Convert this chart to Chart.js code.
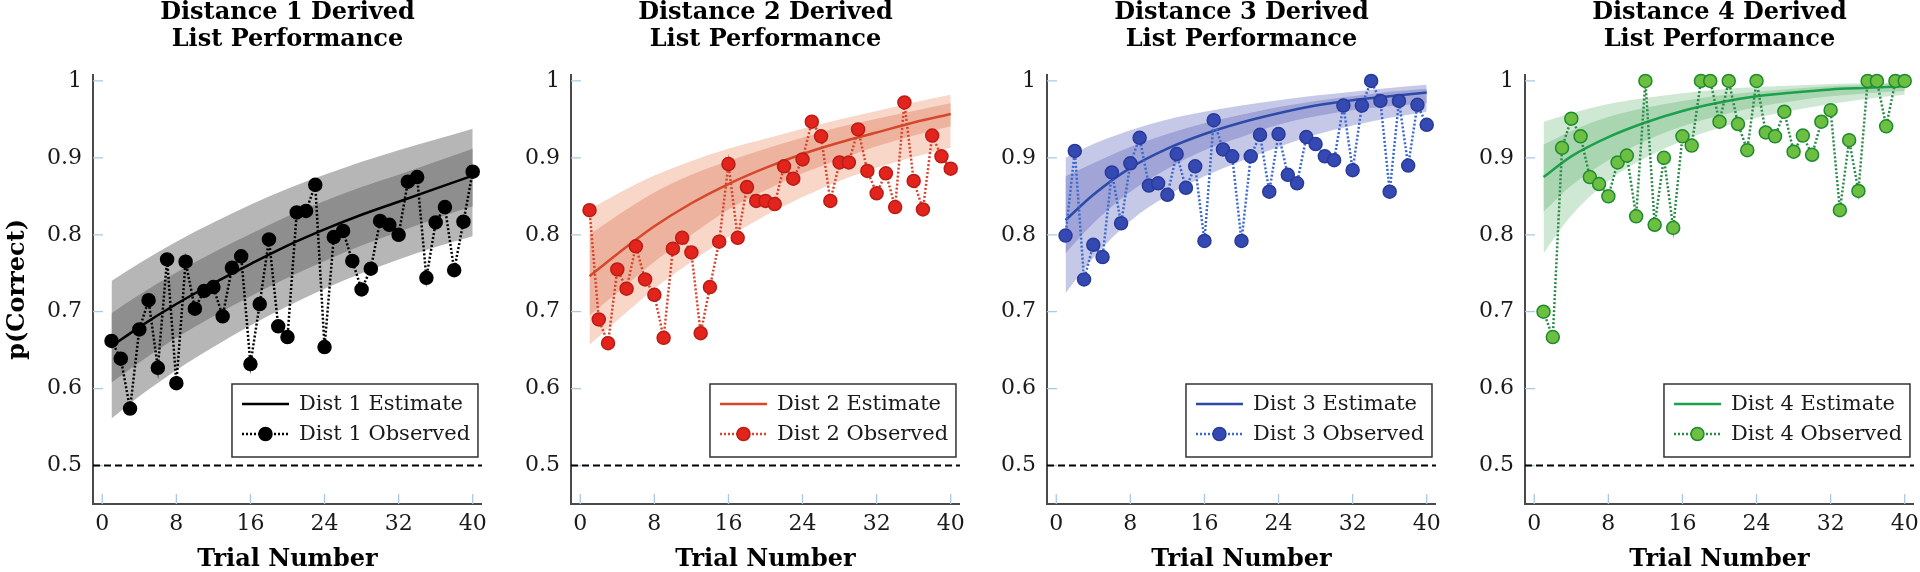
<!DOCTYPE html>
<html>
<head>
<meta charset="utf-8">
<title>Derived List Performance</title>
<script src="https://cdn.jsdelivr.net/npm/chart.js@4.4.1/dist/chart.umd.min.js"></script>
<style>
  html, body { margin: 0; padding: 0; background: #fff; overflow: hidden; }
  #wrap  { position: relative; width: 1920px; height: 572px; }
  .panel { position: absolute; top: 0; }
</style>
</head>
<body>
<div id="wrap">
  <canvas class="panel" id="c1" width="494" height="572" style="left:0px"></canvas>
  <canvas class="panel" id="c2" width="494" height="572" style="left:478px"></canvas>
  <canvas class="panel" id="c3" width="494" height="572" style="left:954px"></canvas>
  <canvas class="panel" id="c4" width="494" height="572" style="left:1432px"></canvas>
</div>
<script>
// ═══════════════════════════════════════════════════════
// DATA
// ═══════════════════════════════════════════════════════
const TRIALS = [1,2,3,4,5,6,7,8,9,10,11,12,13,14,15,16,17,18,19,20,
                21,22,23,24,25,26,27,28,29,30,31,32,33,34,35,36,37,38,39,40];
const FIT_X   = [1, 4, 8, 12, 16, 20, 24, 28, 32, 36, 40];
const X_TICKS = [0, 8, 16, 24, 32, 40];
const Y_TICKS = [0.5, 0.6, 0.7, 0.8, 0.9, 1];
const X_MIN = -1, X_MAX = 41;
const Y_MIN = 0.45, Y_MAX = 1.008;
const CHANCE = 0.5;

// Distance 1
const D1_OBS = [0.662,0.639,0.574,0.677,0.715,0.627,0.768,0.607,0.765,0.704,
                0.727,0.732,0.694,0.757,0.772,0.632,0.710,0.794,0.681,0.667,
                0.829,0.831,0.865,0.654,0.797,0.805,0.766,0.729,0.756,0.818,
                0.813,0.800,0.869,0.875,0.744,0.816,0.836,0.754,0.817,0.882];
const D1_EST      = [0.655,0.680,0.710,0.737,0.762,0.786,0.807,0.826,0.843,0.860,0.877];
const D1_INNER_HI = [0.698,0.722,0.751,0.777,0.801,0.824,0.844,0.862,0.878,0.895,0.912];
const D1_INNER_LO = [0.608,0.634,0.666,0.694,0.720,0.744,0.766,0.786,0.804,0.821,0.837];
const D1_OUTER_HI = [0.740,0.763,0.791,0.816,0.839,0.860,0.878,0.895,0.910,0.924,0.938];
const D1_OUTER_LO = [0.561,0.590,0.624,0.654,0.682,0.707,0.730,0.750,0.768,0.784,0.798];

// Distance 2
const D2_OBS = [0.832,0.690,0.659,0.755,0.730,0.785,0.742,0.722,0.666,0.782,
                0.796,0.777,0.672,0.732,0.791,0.892,0.796,0.862,0.844,0.844,
                0.840,0.889,0.873,0.898,0.947,0.928,0.844,0.894,0.894,0.937,
                0.883,0.854,0.880,0.836,0.972,0.870,0.833,0.929,0.902,0.886];
const D2_EST      = [0.746,0.775,0.811,0.841,0.866,0.887,0.905,0.920,0.933,0.946,0.957];
const D2_INNER_HI = [0.800,0.825,0.855,0.878,0.896,0.912,0.926,0.940,0.951,0.961,0.971];
const D2_INNER_LO = [0.695,0.725,0.765,0.800,0.833,0.858,0.880,0.898,0.915,0.929,0.941];
const D2_OUTER_HI = [0.833,0.853,0.877,0.896,0.912,0.925,0.938,0.950,0.961,0.972,0.982];
const D2_OUTER_LO = [0.657,0.689,0.730,0.765,0.797,0.825,0.849,0.870,0.887,0.901,0.913];

// Distance 3
const D3_OBS = [0.799,0.909,0.742,0.787,0.771,0.881,0.815,0.893,0.926,0.864,
                0.867,0.852,0.905,0.861,0.889,0.792,0.949,0.911,0.902,0.792,
                0.902,0.930,0.856,0.931,0.878,0.867,0.927,0.918,0.902,0.897,
                0.968,0.884,0.968,1.000,0.974,0.856,0.974,0.890,0.969,0.943];
const D3_EST      = [0.819,0.852,0.887,0.912,0.931,0.946,0.958,0.968,0.975,0.980,0.985];
const D3_INNER_HI = [0.876,0.893,0.914,0.931,0.945,0.956,0.966,0.974,0.980,0.986,0.990];
const D3_INNER_LO = [0.776,0.815,0.856,0.886,0.910,0.927,0.943,0.954,0.962,0.967,0.971];
const D3_OUTER_HI = [0.900,0.918,0.936,0.950,0.960,0.968,0.975,0.981,0.986,0.991,0.995];
const D3_OUTER_LO = [0.724,0.770,0.818,0.851,0.876,0.896,0.914,0.930,0.942,0.952,0.960];

// Distance 4
const D4_OBS = [0.700,0.667,0.913,0.951,0.928,0.875,0.866,0.850,0.894,0.903,
                0.824,1.000,0.813,0.900,0.809,0.928,0.916,1.000,1.000,0.947,
                1.000,0.944,0.910,1.000,0.933,0.928,0.960,0.908,0.929,0.904,
                0.947,0.962,0.832,0.923,0.857,1.000,1.000,0.941,1.000,1.000];
const D4_EST      = [0.875,0.902,0.927,0.946,0.961,0.972,0.980,0.985,0.989,0.991,0.993];
const D4_INNER_HI = [0.917,0.935,0.953,0.965,0.974,0.981,0.986,0.990,0.993,0.995,0.997];
const D4_INNER_LO = [0.830,0.864,0.897,0.922,0.941,0.955,0.966,0.974,0.980,0.984,0.987];
const D4_OUTER_HI = [0.947,0.958,0.970,0.978,0.984,0.989,0.992,0.994,0.996,0.997,0.998];
const D4_OUTER_LO = [0.776,0.825,0.870,0.900,0.922,0.939,0.952,0.962,0.970,0.977,0.982];

// ═══════════════════════════════════════════════════════
// STYLE
// ═══════════════════════════════════════════════════════
const SERIF = '"DejaVu Serif", "Liberation Serif", serif';
const INK   = '#1a1a1a';
const AXIS  = '#4a4a4a';
const TICK  = '#a9c9e2';

const PANELS = [
  { id: 'c1', n: 1, obs: D1_OBS, est: D1_EST, iHi: D1_INNER_HI, iLo: D1_INNER_LO, oHi: D1_OUTER_HI, oLo: D1_OUTER_LO,
    line: '#000000', dot: '#000000', edge: '#000000', est_c: '#000000', inner: '#8e8e8e', outer: '#b6b6b6' },
  { id: 'c2', n: 2, obs: D2_OBS, est: D2_EST, iHi: D2_INNER_HI, iLo: D2_INNER_LO, oHi: D2_OUTER_HI, oLo: D2_OUTER_LO,
    line: '#d4452f', dot: '#e3241d', edge: '#b81d16', est_c: '#d6472c', inner: '#eeb39e', outer: '#f8d6c8' },
  { id: 'c3', n: 3, obs: D3_OBS, est: D3_EST, iHi: D3_INNER_HI, iLo: D3_INNER_LO, oHi: D3_OUTER_HI, oLo: D3_OUTER_LO,
    line: '#3a68cf', dot: '#3549b2', edge: '#2a3a99', est_c: '#2c4aa8', inner: '#a0a4d6', outer: '#c6c8e8' },
  { id: 'c4', n: 4, obs: D4_OBS, est: D4_EST, iHi: D4_INNER_HI, iLo: D4_INNER_LO, oHi: D4_OUTER_HI, oLo: D4_OUTER_LO,
    line: '#2a8a48', dot: '#6cbf40', edge: '#1f8a2e', est_c: '#1ba04c', inner: '#a9d5b1', outer: '#cfe8d3' },
];

// ═══════════════════════════════════════════════════════
// PLUGINS
// ═══════════════════════════════════════════════════════
const innerTicks = {
  id: 'innerTicks',
  beforeDatasetsDraw(chart) {
    const { ctx, chartArea: a, scales: { x, y } } = chart;
    ctx.save();
    ctx.strokeStyle = TICK;
    ctx.lineWidth = 1.3;
    ctx.beginPath();
    X_TICKS.forEach(v => {
      const px = x.getPixelForValue(v);
      ctx.moveTo(px, a.bottom); ctx.lineTo(px, a.bottom - 10);
    });
    Y_TICKS.forEach(v => {
      const py = y.getPixelForValue(v);
      ctx.moveTo(a.left, py); ctx.lineTo(a.left + 10, py);
    });
    ctx.stroke();
    ctx.restore();
  },
};

// legend box drawn in the lower right corner of the plot
const boxLegend = {
  id: 'boxLegend',
  afterDatasetsDraw(chart, args, o) {
    const { ctx, chartArea: a } = chart;
    const w = 246, h = 73;
    const left = a.right - 4 - w, top = a.bottom - 47 - h;
    const y1 = top + 20, y2 = top + 50;
    ctx.save();
    ctx.fillStyle = '#fff';
    ctx.fillRect(left, top, w, h);
    ctx.strokeStyle = '#333';
    ctx.lineWidth = 1.5;
    ctx.strokeRect(left, top, w, h);

    ctx.strokeStyle = o.est;
    ctx.lineWidth = 2.5;
    ctx.beginPath(); ctx.moveTo(left + 10, y1); ctx.lineTo(left + 57, y1); ctx.stroke();

    ctx.strokeStyle = o.line;
    ctx.setLineDash([2, 2]);
    ctx.beginPath(); ctx.moveTo(left + 10, y2); ctx.lineTo(left + 57, y2); ctx.stroke();
    ctx.setLineDash([]);
    ctx.beginPath(); ctx.arc(left + 33.5, y2, 6.5, 0, Math.PI * 2);
    ctx.fillStyle = o.dot; ctx.fill();
    ctx.strokeStyle = o.edge; ctx.lineWidth = 1.5; ctx.stroke();

    ctx.fillStyle = INK;
    ctx.font = '21px ' + SERIF;
    ctx.textBaseline = 'middle';
    ctx.fillText(o.labels[0], left + 67, y1 + 1);
    ctx.fillText(o.labels[1], left + 67, y2 + 1);
    ctx.restore();
  },
};

// ═══════════════════════════════════════════════════════
// CHARTS
// ═══════════════════════════════════════════════════════
function pts(xs, ys) {
  return xs.map((x, i) => ({ x, y: ys[i] }));
}

function band(xs, ys, color, fill) {
  return {
    data: pts(xs, ys), borderColor: 'transparent', borderWidth: 0, pointRadius: 0,
    cubicInterpolationMode: 'monotone', backgroundColor: color, fill,
  };
}

function buildChart(p) {
  const axisFont  = { family: SERIF, size: 22 };
  const titleFont = { family: SERIF, size: 24, weight: 'bold', lineHeight: 1 };

  return new Chart(document.getElementById(p.id), {
    type: 'line',
    data: {
      datasets: [
        { data: pts(TRIALS, p.obs), borderColor: p.line, borderWidth: 2.5, borderDash: [2, 2],
          pointRadius: 6.5, pointBackgroundColor: p.dot, pointBorderColor: p.edge, pointBorderWidth: 1.5,
          fill: false, clip: false },
        { data: pts([X_MIN, X_MAX], [CHANCE, CHANCE]), borderColor: '#000', borderWidth: 2,
          borderDash: [7, 4], pointRadius: 0, fill: false },
        { data: pts(FIT_X, p.est), borderColor: p.est_c, borderWidth: 2.5, pointRadius: 0,
          cubicInterpolationMode: 'monotone', fill: false },
        band(FIT_X, p.iHi, p.inner, '+1'),
        band(FIT_X, p.iLo, p.inner, false),
        band(FIT_X, p.oHi, p.outer, '+1'),
        band(FIT_X, p.oLo, p.outer, false),
      ],
    },
    options: {
      responsive: false,
      animation: false,
      events: [],
      layout: { padding: { left: 0, right: 10, top: 0, bottom: 0 } },
      plugins: {
        legend:  { display: false },
        tooltip: { enabled: false },
        title: {
          display: true,
          fullSize: false,
          text: [`Distance ${p.n} Derived`, 'List Performance'],
          color: '#000',
          font: { family: SERIF, size: 24, weight: 'bold', lineHeight: 1.1 },
          padding: { top: 0, bottom: 22 },
        },
        boxLegend: {
          labels: [`Dist ${p.n} Estimate`, `Dist ${p.n} Observed`],
          est: p.est_c, line: p.line, dot: p.dot, edge: p.edge,
        },
      },
      scales: {
        x: {
          type: 'linear', min: X_MIN, max: X_MAX,
          afterBuildTicks: s => { s.ticks = X_TICKS.map(v => ({ value: v })); },
          afterFit: s => { s.height = 68; },
          grid: { display: false, drawTicks: false },
          border: { display: true, color: AXIS, width: 2 },
          ticks: { padding: 7, color: INK, font: axisFont, maxRotation: 0 },
          title: { display: true, text: 'Trial Number', color: '#000', font: titleFont,
                   padding: { top: 0, bottom: 0 } },
        },
        y: {
          type: 'linear', min: Y_MIN, max: Y_MAX,
          afterBuildTicks: s => { s.ticks = Y_TICKS.map(v => ({ value: v })); },
          afterFit: s => { s.width = 93; },
          grid: { display: false, drawTicks: false },
          border: { display: true, color: AXIS, width: 2 },
          ticks: { padding: 11, color: INK, font: axisFont,
                   callback: v => (v === 1 ? '1' : v.toFixed(1)) },
          title: { display: p.n === 1, text: 'p(Correct)', color: '#000', font: titleFont,
                   padding: { top: 6, bottom: 0 } },
        },
      },
    },
    plugins: [innerTicks, boxLegend],
  });
}

PANELS.forEach(buildChart);
</script>
</body>
</html>
